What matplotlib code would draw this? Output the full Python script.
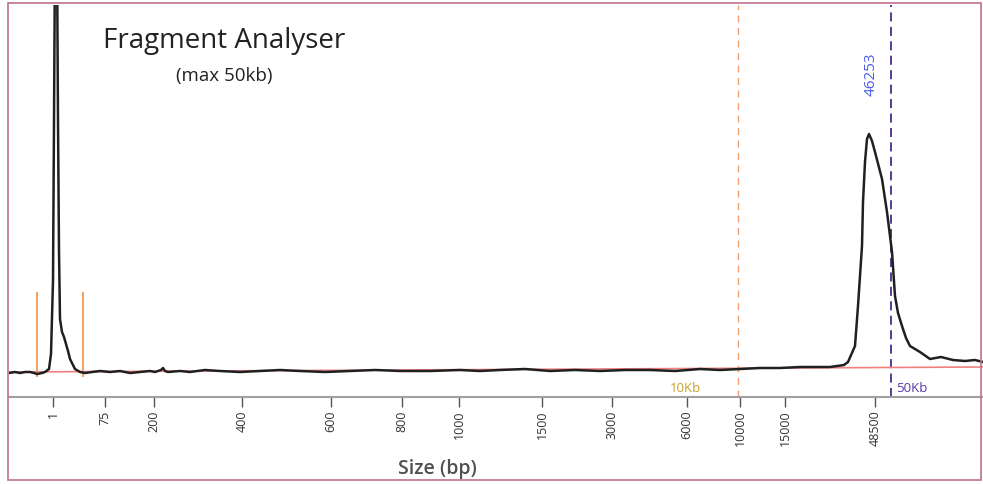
import matplotlib
matplotlib.use("Agg")
import matplotlib.pyplot as plt
from matplotlib.patches import Rectangle

plt.rcParams['font.family'] = ['Open Sans', 'DejaVu Sans']

# migration position (arbitrary units along the run) and signal
pos = [0, 6, 11, 16, 21, 25, 28, 33, 36, 40, 42, 44, 45, 46, 47, 48, 49, 50, 51, 53, 55, 57,
       59, 61, 66, 71, 76, 83, 91, 101, 111, 121, 131, 141, 146, 152, 154, 156, 159, 171,
       181, 196, 211, 231, 251, 271, 291, 316, 341, 366, 391, 421, 451, 471, 491, 516, 541,
       566, 591, 616, 641, 666, 691, 711, 731, 751, 771, 791, 811, 821, 828, 835, 839, 846,
       849, 853, 854, 856, 858, 860, 863, 866, 873, 878, 883, 886, 889, 893, 897, 901, 906,
       911, 921, 932, 944, 956, 966, 974]
signal = [-2, -1, -2, -1, -1, -2, -3, -2, -1, 2, 17, 90, 250, 420, 450, 420, 250, 120, 52,
          39, 34, 27, 20, 12, 2, -1, -2, -1, 0, -1, 0, -2, -1, 0, -1, 1, 3, 0, -1, 0, -1, 1,
          0, -1, 0, 1, 0, -1, 0, 1, 0, 0, 1, 0, 1, 2, 0, 1, 0, 1, 1, 0, 2, 1, 2, 3, 3, 4, 4,
          4, 5, 6, 9, 25, 65, 125, 169, 209, 232, 237, 230, 219, 192, 159, 119, 75, 58, 45,
          33, 25, 22, 19, 12, 14, 11, 10, 11, 9]

# ladder sizes and their positions on the run
ladder_bp = ['1', '75', '200', '400', '600', '800', '1000', '1500', '3000', '6000',
             '10000', '15000', '48500']
ladder_pos = [44, 96, 145, 233, 322, 393, 450, 533, 603, 678, 731, 776, 866]

peak_pos = 860
peak_size = '46253'
lower_mark, upper_mark = 28, 74
marker_10kb = 729
marker_50kb = 882

fig = plt.figure(figsize=(9.83, 4.85), dpi=100)
ax = fig.add_axes([9 / 983, 87 / 485, 974 / 983, 392 / 485])

ax.plot([0, 974], [-1, 4], color='#f08080', lw=1.2, zorder=2)
ax.plot(pos, signal, color='#202020', lw=1.8, zorder=3)

ax.vlines([lower_mark, upper_mark], -6, 79, color='#f5a060', lw=1.4, zorder=1)
ax.axvline(marker_10kb, color='#f0a070', lw=1, ls=(0, (5, 4)), zorder=1)
ax.axvline(marker_50kb, color='#4a2a8a', lw=1.3, ls=(0, (5, 3)), zorder=1)

ax.text(peak_pos + 2, 276, peak_size, rotation=90, color='#4a5ce8', fontsize=11,
        ha='center', va='bottom')
ax.text(marker_10kb - 68, -16, '10Kb', color='#c8a028', fontsize=9.5, ha='left',
        va='center')
ax.text(marker_50kb + 5, -16, '50Kb', color='#5a3aa8', fontsize=9.5, ha='left',
        va='center')

ax.set_xlim(0, 974)
ax.set_ylim(-26, 366)
ax.set_yticks([])
ax.set_xticks(ladder_pos)
ax.set_xticklabels(ladder_bp, rotation=90, fontsize=9, color='#333333')
ax.tick_params(axis='x', length=7, width=1, color='#555555', pad=2)
for s in ['left', 'right', 'top']:
    ax.spines[s].set_visible(False)
ax.spines['bottom'].set_color('#a0a0a0')
ax.spines['bottom'].set_linewidth(1.5)

fig.text(224 / 983, 1 - 41 / 485, 'Fragment Analyser', fontsize=20, color='#222222',
         ha='center', va='center')
fig.text(224 / 983, 1 - 76 / 485, '(max 50kb)', fontsize=13.5, color='#222222',
         ha='center', va='center')
fig.text(437 / 983, 1 - 469 / 485, 'Size (bp)', fontsize=14, color='#505050',
         fontweight='semibold', ha='center', va='center')

fig.patches.append(Rectangle((8 / 983, 4 / 485), 973 / 983, 477 / 485, fill=False,
                             edgecolor='#c07090', lw=1.2, transform=fig.transFigure))

fig.savefig('out.png', dpi=100)
